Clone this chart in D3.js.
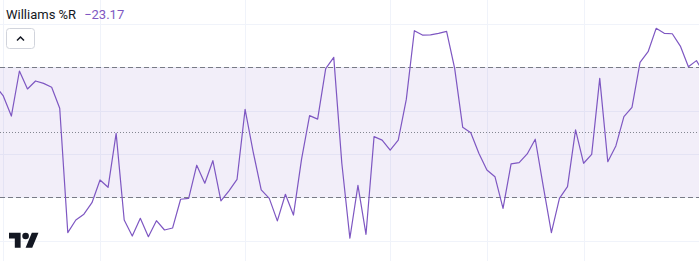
<!DOCTYPE html>
<html>
<head>
<meta charset="utf-8">
<script src="https://cdn.jsdelivr.net/npm/d3@7"></script>
<style>
  html, body { margin: 0; padding: 0; background: #fff; }
  svg { display: block; }
</style>
</head>
<body>
<svg id="chart" width="699" height="261"></svg>
<script>
// Williams %R, one value per bar (first and last bars are cut by the pane edges)
const wpr = [
  -28.4, -33.2, -42.5, -21.7, -30.0, -26.3, -27.4, -29.2, -38.9, -96.3,
  -90.5, -87.8, -82.5, -72.0, -75.4, -50.5, -90.5, -97.9, -89.7, -98.2,
  -90.8, -95.1, -94.2, -80.9, -80.5, -65.2, -73.5, -63.1, -81.7, -77.0,
  -71.7, -39.4, -59.0, -76.6, -80.5, -90.9, -78.6, -88.2, -62.5, -42.3,
  -43.9, -20.6, -15.4, -64.3, -98.9, -74.5, -97.1, -52.0, -53.6, -58.2,
  -53.6, -34.8, -3.1, -5.1, -5.0, -4.3, -3.4, -20.5, -47.7, -50.2,
  -59.7, -67.4, -70.5, -85.1, -64.6, -64.0, -60.0, -53.2, -75.1, -96.3,
  -80.5, -75.1, -48.9, -64.3, -60.2, -25.1, -63.6, -56.3, -42.8, -38.5,
  -17.7, -12.8, -2.0, -4.3, -4.5, -10.2, -19.7, -16.9, -23.17
];
const gridValues = [0, -20, -40, -60, -80, -100];
const timeGridBars = [1, 13, 31, 49, 61, 73];
const bands = { upper: -20, middle: -50, lower: -80 };
const title = 'Williams %R';

const W = 699, H = 261;
const svg = d3.select('#chart');

const x = d3.scaleLinear()
  .domain([0, wpr.length - 1])
  .range([-4.76, -4.76 + 8.06 * (wpr.length - 1)]);
const y = d3.scaleLinear().domain([0, -100]).range([24, 240.6]);

// grid
svg.append('g')
  .selectAll('line')
  .data(gridValues)
  .enter()
  .append('line')
  .attr('x1', 0).attr('x2', W)
  .attr('y1', d => Math.round(y(d)) + 0.5)
  .attr('y2', d => Math.round(y(d)) + 0.5)
  .attr('stroke', '#f0f3fa');

svg.append('g')
  .selectAll('line')
  .data(timeGridBars)
  .enter()
  .append('line')
  .attr('x1', d => Math.round(x(d)) + 0.5)
  .attr('x2', d => Math.round(x(d)) + 0.5)
  .attr('y1', 0).attr('y2', H)
  .attr('stroke', '#f0f3fa');

// band background
svg.append('rect')
  .attr('x', 0)
  .attr('width', W)
  .attr('y', y(bands.upper))
  .attr('height', y(bands.lower) - y(bands.upper))
  .attr('fill', 'rgba(126,87,194,0.1)');

// band lines
svg.selectAll('.band')
  .data([bands.upper, bands.lower])
  .enter()
  .append('line')
  .attr('x1', 0).attr('x2', W)
  .attr('y1', d => Math.round(y(d)) + 0.5)
  .attr('y2', d => Math.round(y(d)) + 0.5)
  .attr('stroke', '#787b86')
  .attr('stroke-dasharray', '5,3');

svg.append('line')
  .attr('x1', 0).attr('x2', W)
  .attr('y1', Math.round(y(bands.middle)) + 0.5)
  .attr('y2', Math.round(y(bands.middle)) + 0.5)
  .attr('stroke', '#787b86')
  .attr('stroke-opacity', 0.9)
  .attr('stroke-dasharray', '1,2');

// the %R line
const line = d3.line()
  .x((d, i) => x(i))
  .y(d => y(d));

svg.append('path')
  .datum(wpr)
  .attr('d', line)
  .attr('fill', 'none')
  .attr('stroke', '#7e57c2')
  .attr('stroke-width', 1.2)
  .attr('stroke-linejoin', 'round');

// legend
const legend = svg.append('text')
  .attr('x', 6)
  .attr('y', 19)
  .attr('font-family', 'Roboto, "Noto Sans", sans-serif')
  .attr('font-size', 13);
legend.append('tspan')
  .attr('fill', '#131722')
  .text(title);
legend.append('tspan')
  .attr('dx', 8)
  .attr('fill', '#7e57c2')
  .text(d3.format('.2f')(wpr[wpr.length - 1]).replace('-', '\u2212'));

// collapse button
const btn = svg.append('g').attr('transform', 'translate(6.5,28.5)');
btn.append('rect')
  .attr('width', 28).attr('height', 20)
  .attr('rx', 3)
  .attr('fill', '#fff')
  .attr('stroke', '#d1d4dc');
btn.append('path')
  .attr('d', 'M10.5,12 L14,8.5 L17.5,12')
  .attr('fill', 'none')
  .attr('stroke', '#131722')
  .attr('stroke-width', 1.5);

// TradingView logo
const logo = svg.append('g')
  .attr('transform', 'translate(9,229.4) scale(0.83)')
  .attr('fill', '#131722');
logo.append('path').attr('d', 'M14 22H7V11H0V4h14v18zM28 22h-8l7.5-18h8L28 22z');
logo.append('circle').attr('cx', 20).attr('cy', 8).attr('r', 4);
</script>
</body>
</html>
